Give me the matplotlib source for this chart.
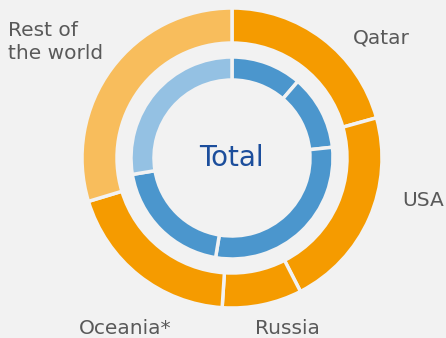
import matplotlib.pyplot as plt

# Outer ring: supplier shares (clockwise from the top)
suppliers = ['Qatar', 'USA', 'Russia', 'Oceania*', 'Rest of\nthe world']
supplier_share = [20.7, 21.8, 8.6, 19.3, 29.7]

# Inner ring: total split (clockwise from the top)
total_share = [11.3, 12.0, 29.3, 19.8, 27.6]

bg = '#F2F2F2'
orange = '#F59B00'
orange_light = '#F8BD5C'
blue = '#4B96CD'
blue_light = '#94C1E3'
text_grey = '#595959'

fig = plt.figure(figsize=(4.46, 3.38), dpi=100, facecolor=bg)
ax = fig.add_axes([0, 0, 1, 1])
ax.set_facecolor(bg)

# pixel-sized data units, pie centred at (0, 0)
outer_r = 150
inner_r = 101

ax.pie(supplier_share, radius=outer_r, startangle=90, counterclock=False,
       colors=[orange] * 4 + [orange_light],
       wedgeprops=dict(width=35, edgecolor=bg, linewidth=2.5))
ax.pie(total_share, radius=inner_r, startangle=90, counterclock=False,
       colors=[blue] * 4 + [blue_light],
       wedgeprops=dict(width=23, edgecolor=bg, linewidth=2.5))

ax.set_xlim(-232, 214)
ax.set_ylim(-180, 158)
ax.set_aspect('equal')
ax.axis('off')

ax.text(-1, 0, 'Total', color='#1C4E9C', fontsize=20,
        ha='center', va='center')

label_pos = [(121, 120), (170, -42), (23, -170), (-153, -170), (-224, 116)]
for name, (x, y) in zip(suppliers, label_pos):
    ax.text(x, y, name, color=text_grey, fontsize=14.5, ha='left',
            va='center', linespacing=1.3)

plt.savefig('out.png', dpi=100, facecolor=bg)
